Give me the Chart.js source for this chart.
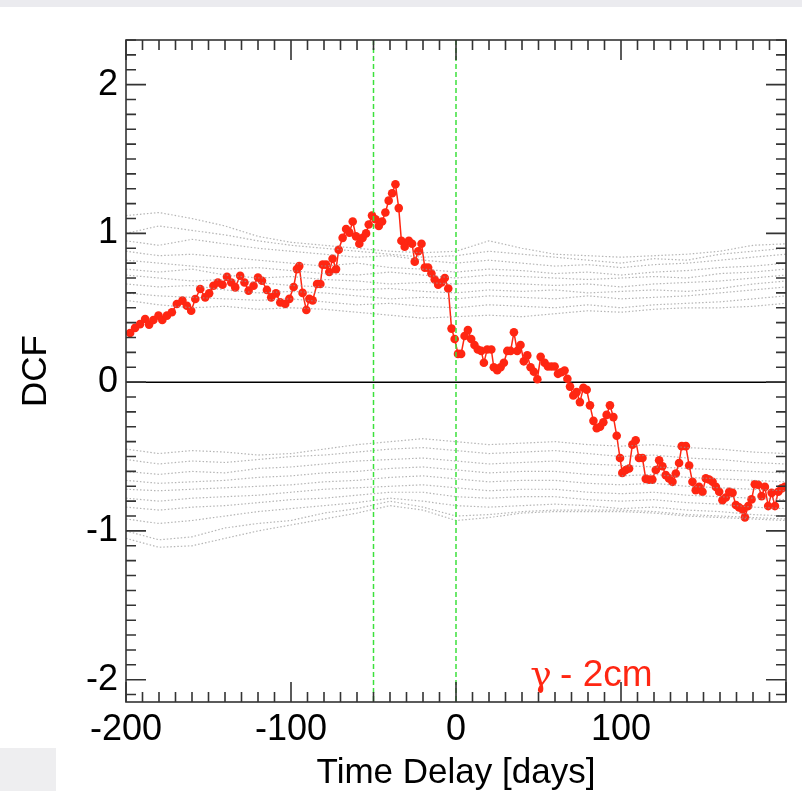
<!DOCTYPE html>
<html>
<head>
<meta charset="utf-8">
<script src="https://cdn.jsdelivr.net/npm/chart.js@4.4.1/dist/chart.umd.min.js"></script>
<style>
  body { margin: 0; background: #fff; }
  #wrap { position: relative; width: 802px; height: 791px; }
  #topband { position: absolute; left: 0; top: 0; width: 802px; height: 7px; background: #ebebef; }
  #cornerbox { position: absolute; left: 0; top: 748px; width: 56px; height: 43px; background: #eeeef0; }
  canvas { position: absolute; left: 0; top: 0; }
</style>
</head>
<body>
<div id="wrap">
  <div id="topband"></div>
  <div id="cornerbox"></div>
  <canvas id="dcfChart" width="802" height="791"></canvas>
</div>
<script>
// measured DCF (gamma vs 2cm)
const lagDays = [
  -197.5, -194.5, -191.5, -188.4, -186.0, -183.4, -180.3, -178.0, -175.2, -172.2,
  -169.2, -165.8, -163.1, -160.5, -158.0, -155.0, -152.0, -149.6, -147.0, -144.3,
  -141.5, -138.8, -136.2, -133.8, -130.8, -128.2, -125.7, -122.7, -120.0, -117.6,
  -114.6, -112.0, -109.1, -106.5, -103.5, -101.0, -98.4, -96.4, -95.0, -93.0,
  -90.7, -88.9, -86.9, -84.2, -82.2, -80.8, -78.8, -76.8, -74.8, -72.7,
  -71.1, -68.7, -66.6, -64.6, -62.6, -60.6, -58.6, -56.6, -54.5, -52.9,
  -50.9, -48.8, -46.8, -44.8, -42.8, -40.8, -38.7, -36.7, -34.7, -33.1,
  -31.1, -28.6, -26.6, -25.0, -22.9, -20.9, -18.9, -16.9, -14.9, -12.9,
  -10.8, -8.8, -6.8, -4.7, -2.7, -0.8, 1.2, 3.1, 5.2, 7.2,
  9.2, 11.2, 13.2, 15.3, 16.9, 18.9, 21.4, 22.9, 25.0, 27.0,
  29.0, 31.1, 33.1, 35.1, 37.1, 39.1, 41.1, 43.2, 45.2, 47.2,
  49.3, 51.3, 53.7, 55.7, 57.8, 59.8, 61.8, 63.8, 65.8, 67.5,
  69.1, 71.1, 73.1, 75.1, 77.2, 79.2, 81.2, 83.3, 85.3, 87.3,
  89.3, 91.3, 93.3, 95.4, 97.4, 99.4, 100.8, 102.9, 104.9, 106.9,
  108.9, 110.9, 113.0, 115.0, 117.0, 119.0, 121.1, 123.1, 125.1, 127.1,
  129.1, 131.2, 133.2, 135.2, 136.8, 139.3, 141.3, 143.3, 145.3, 147.3,
  149.4, 151.4, 153.4, 155.5, 157.5, 159.5, 161.5, 163.5, 165.6, 167.6,
  169.6, 171.6, 173.7, 175.1, 177.1, 179.1, 181.1, 183.1, 185.2, 187.2,
  189.2, 191.3, 193.3, 195.3, 197.3, 199.3
];
const dcfValues = [
  0.33, 0.365, 0.39, 0.425, 0.387, 0.418, 0.447, 0.418, 0.447, 0.47,
  0.525, 0.548, 0.514, 0.48, 0.559, 0.626, 0.57, 0.597, 0.648, 0.67,
  0.655, 0.708, 0.67, 0.637, 0.715, 0.67, 0.615, 0.648, 0.704, 0.682,
  0.62, 0.57, 0.597, 0.536, 0.525, 0.56, 0.64, 0.76, 0.78, 0.60,
  0.485, 0.56, 0.55, 0.66, 0.66, 0.79, 0.79, 0.74, 0.83, 0.76,
  0.89, 0.97, 1.03, 1.005, 1.08, 0.98, 0.93, 0.97, 1.00, 1.06,
  1.12, 1.095, 1.05, 1.08, 1.14, 1.22, 1.27, 1.33, 1.17, 0.95,
  0.91, 0.95, 0.93, 0.81, 0.88, 0.93, 0.77, 0.77, 0.73, 0.69,
  0.655, 0.67, 0.70, 0.63, 0.36, 0.29, 0.19, 0.19, 0.31, 0.35,
  0.29, 0.25, 0.22, 0.21, 0.13, 0.22, 0.22, 0.10, 0.08, 0.10,
  0.13, 0.21, 0.21, 0.335, 0.21, 0.25, 0.14, 0.18, 0.10, 0.07,
  0.02, 0.17, 0.13, 0.105, 0.105, 0.105, 0.056, 0.067, 0.078, 0.023,
  -0.03, -0.09, -0.067, -0.134, -0.038, -0.051, -0.156, -0.26, -0.31, -0.30,
  -0.27, -0.22, -0.156, -0.235, -0.36, -0.51, -0.61, -0.59, -0.58, -0.42,
  -0.39, -0.51, -0.51, -0.65, -0.655, -0.655, -0.59, -0.525, -0.565, -0.625,
  -0.647, -0.67, -0.614, -0.543, -0.43, -0.43, -0.56, -0.67, -0.726, -0.704,
  -0.737, -0.647, -0.654, -0.67, -0.704, -0.737, -0.793, -0.775, -0.737, -0.744,
  -0.826, -0.842, -0.855, -0.909, -0.833, -0.788, -0.686, -0.69, -0.766, -0.704,
  -0.833, -0.744, -0.833, -0.737, -0.714, -0.704
];

// simulated DCF curves (significance bands), sampled every 20 days
const simLags = [-200, -180, -160, -140, -120, -100, -80, -60, -40, -20, 0, 20, 40, 60, 80, 100, 120, 140, 160, 180, 200];
const simUpper = [
  [1.12, 1.14, 1.10, 1.05, 0.98, 0.94, 0.92, 0.90, 0.88, 0.87, 0.88, 0.95, 0.90, 0.86, 0.85, 0.84, 0.85, 0.86, 0.88, 0.92, 0.93],
  [1.00, 1.05, 1.02, 0.99, 0.95, 0.92, 0.90, 0.88, 0.86, 0.84, 0.85, 0.88, 0.86, 0.84, 0.82, 0.80, 0.83, 0.82, 0.86, 0.88, 0.90],
  [0.95, 0.92, 0.96, 0.93, 0.90, 0.88, 0.86, 0.84, 0.85, 0.82, 0.80, 0.82, 0.80, 0.78, 0.79, 0.77, 0.79, 0.80, 0.82, 0.84, 0.86],
  [0.88, 0.85, 0.86, 0.84, 0.82, 0.80, 0.78, 0.80, 0.77, 0.76, 0.74, 0.76, 0.75, 0.73, 0.74, 0.72, 0.74, 0.75, 0.77, 0.78, 0.80],
  [0.82, 0.80, 0.78, 0.76, 0.77, 0.75, 0.73, 0.72, 0.74, 0.72, 0.70, 0.72, 0.71, 0.70, 0.69, 0.70, 0.71, 0.70, 0.73, 0.74, 0.76],
  [0.76, 0.74, 0.76, 0.72, 0.70, 0.71, 0.69, 0.68, 0.66, 0.67, 0.66, 0.67, 0.66, 0.65, 0.66, 0.64, 0.66, 0.67, 0.68, 0.70, 0.72],
  [0.72, 0.70, 0.68, 0.69, 0.67, 0.65, 0.64, 0.62, 0.63, 0.61, 0.60, 0.62, 0.61, 0.62, 0.60, 0.61, 0.62, 0.61, 0.63, 0.66, 0.68],
  [0.66, 0.64, 0.65, 0.62, 0.60, 0.61, 0.60, 0.58, 0.56, 0.57, 0.56, 0.58, 0.57, 0.56, 0.58, 0.56, 0.57, 0.58, 0.60, 0.62, 0.64],
  [0.60, 0.58, 0.57, 0.56, 0.55, 0.56, 0.54, 0.52, 0.53, 0.51, 0.50, 0.52, 0.51, 0.50, 0.52, 0.50, 0.52, 0.53, 0.54, 0.56, 0.58],
  [0.55, 0.52, 0.50, 0.51, 0.49, 0.50, 0.49, 0.47, 0.45, 0.43, 0.44, 0.45, 0.44, 0.46, 0.48, 0.47, 0.49, 0.50, 0.50, 0.51, 0.53]
];
const simLower = [
  [-0.45, -0.48, -0.46, -0.47, -0.49, -0.48, -0.45, -0.42, -0.40, -0.38, -0.40, -0.42, -0.41, -0.40, -0.42, -0.43, -0.42, -0.44, -0.45, -0.47, -0.48],
  [-0.52, -0.55, -0.53, -0.54, -0.52, -0.50, -0.49, -0.47, -0.45, -0.44, -0.46, -0.48, -0.47, -0.46, -0.48, -0.50, -0.49, -0.51, -0.52, -0.54, -0.55],
  [-0.60, -0.62, -0.60, -0.61, -0.58, -0.57, -0.55, -0.53, -0.52, -0.51, -0.53, -0.55, -0.54, -0.53, -0.55, -0.56, -0.57, -0.58, -0.59, -0.60, -0.61],
  [-0.66, -0.68, -0.67, -0.66, -0.64, -0.63, -0.61, -0.60, -0.58, -0.57, -0.59, -0.61, -0.60, -0.60, -0.62, -0.63, -0.62, -0.64, -0.65, -0.66, -0.67],
  [-0.72, -0.73, -0.72, -0.71, -0.70, -0.69, -0.67, -0.66, -0.64, -0.63, -0.65, -0.67, -0.66, -0.66, -0.68, -0.69, -0.68, -0.70, -0.71, -0.72, -0.73],
  [-0.78, -0.80, -0.78, -0.77, -0.76, -0.74, -0.72, -0.71, -0.70, -0.69, -0.71, -0.73, -0.72, -0.72, -0.74, -0.75, -0.74, -0.76, -0.77, -0.78, -0.79],
  [-0.84, -0.86, -0.84, -0.83, -0.81, -0.79, -0.78, -0.76, -0.74, -0.74, -0.77, -0.78, -0.77, -0.77, -0.79, -0.80, -0.79, -0.81, -0.82, -0.84, -0.85],
  [-0.92, -0.95, -0.93, -0.90, -0.87, -0.85, -0.83, -0.81, -0.78, -0.80, -0.83, -0.84, -0.83, -0.82, -0.83, -0.85, -0.84, -0.86, -0.87, -0.89, -0.90],
  [-1.00, -1.06, -1.04, -0.98, -0.95, -0.93, -0.88, -0.85, -0.80, -0.84, -0.90, -0.89, -0.87, -0.86, -0.86, -0.86, -0.87, -0.89, -0.90, -0.91, -0.92],
  [-1.05, -1.11, -1.10, -1.05, -1.00, -0.96, -0.92, -0.88, -0.83, -0.86, -0.93, -0.91, -0.88, -0.87, -0.87, -0.87, -0.88, -0.90, -0.91, -0.92, -0.93]
];

// vertical reference lags
const markerLags = [-50, 0];

const RED = "rgb(255, 38, 18)";
const GRAY = "rgba(150, 150, 150, 0.7)";
const FONT = "'Liberation Sans', Arial, Helvetica, sans-serif";

const toPoints = (xs, ys) => xs.map((x, i) => ({ x: x, y: ys[i] }));

const simSets = simUpper.concat(simLower).map((ys) => ({
  data: toPoints(simLags, ys),
  showLine: true,
  borderColor: GRAY,
  borderWidth: 1.2,
  borderDash: [1.5, 2],
  pointRadius: 0,
  tension: 0,
}));

// IDL-style frame: inward ticks on all four sides, zero line, dashed markers, label
const framePlugin = {
  id: "idlFrame",
  beforeDatasetsDraw(chart) {
    const { ctx, chartArea: a, scales } = chart;
    const y0 = scales.y.getPixelForValue(0);
    ctx.save();
    ctx.strokeStyle = "#000";
    ctx.lineWidth = 1.5;
    ctx.beginPath();
    ctx.moveTo(a.left, y0);
    ctx.lineTo(a.right, y0);
    ctx.stroke();
    ctx.restore();
  },
  afterDatasetsDraw(chart) {
    const { ctx, chartArea: a, scales } = chart;
    ctx.save();
    // green dashed lines
    ctx.strokeStyle = "rgb(60, 225, 60)";
    ctx.lineWidth = 1.5;
    ctx.setLineDash([5, 3]);
    markerLags.forEach((lag) => {
      const px = scales.x.getPixelForValue(lag);
      ctx.beginPath();
      ctx.moveTo(px, a.top);
      ctx.lineTo(px, a.bottom);
      ctx.stroke();
    });
    ctx.setLineDash([]);

    // frame
    ctx.strokeStyle = "#333";
    ctx.lineWidth = 1.6;
    ctx.strokeRect(a.left, a.top, a.right - a.left, a.bottom - a.top);

    // x ticks
    ctx.beginPath();
    for (let v = -200; v <= 200; v += 10) {
      const px = scales.x.getPixelForValue(v);
      const len = v % 100 === 0 ? 20 : 10;
      ctx.moveTo(px, a.bottom);
      ctx.lineTo(px, a.bottom - len);
      ctx.moveTo(px, a.top);
      ctx.lineTo(px, a.top + len);
    }
    // y ticks
    for (let k = -21; k <= 23; k++) {
      const v = k / 10;
      const py = scales.y.getPixelForValue(v);
      if (py < a.top || py > a.bottom) continue;
      const len = k % 10 === 0 ? 20 : 10;
      ctx.moveTo(a.left, py);
      ctx.lineTo(a.left + len, py);
      ctx.moveTo(a.right, py);
      ctx.lineTo(a.right - len, py);
    }
    ctx.stroke();

    // band label: greek gamma then the rest
    const lx = scales.x.getPixelForValue(45);
    const ly = scales.y.getPixelForValue(-2.04);
    ctx.fillStyle = RED;
    ctx.textBaseline = "alphabetic";
    ctx.font = "36px 'DejaVu Serif', serif";
    ctx.fillText("\u03b3", lx, ly);
    const gw = ctx.measureText("\u03b3").width;
    ctx.font = "37px " + FONT;
    ctx.fillText(" - 2cm", lx + gw - 2, ly);
    ctx.restore();
  },
};

new Chart(document.getElementById("dcfChart"), {
  type: "scatter",
  data: {
    datasets: simSets.concat([
      {
        data: toPoints(lagDays, dcfValues),
        showLine: true,
        borderColor: RED,
        backgroundColor: RED,
        borderWidth: 1.5,
        pointRadius: 4.3,
        pointBorderWidth: 0,
      },
    ]),
  },
  options: {
    responsive: false,
    animation: false,
    events: [],
    layout: { padding: { top: 40, right: 16, left: 0, bottom: 0 } },
    plugins: { legend: { display: false }, tooltip: { enabled: false } },
    scales: {
      x: {
        type: "linear",
        min: -200,
        max: 200,
        grid: { display: false, drawTicks: false },
        border: { display: false },
        afterFit: (s) => { s.height = 89; },
        ticks: {
          stepSize: 100,
          padding: 6,
          color: "#000",
          font: { family: FONT, size: 36 },
          callback: (v) => (v === 200 ? "" : v),
        },
        title: {
          display: true,
          text: "Time Delay [days]",
          color: "#000",
          font: { family: FONT, size: 35, lineHeight: 1 },
          padding: { top: 0, bottom: 0 },
        },
      },
      y: {
        min: -2.15,
        max: 2.3,
        grid: { display: false, drawTicks: false },
        border: { display: false },
        afterFit: (s) => { s.width = 126; },
        ticks: {
          stepSize: 1,
          includeBounds: false,
          padding: 8,
          color: "#000",
          font: { family: FONT, size: 36 },
        },
        title: {
          display: true,
          text: "DCF",
          color: "#000",
          font: { family: FONT, size: 35, lineHeight: 1 },
          padding: { top: 19, bottom: 0 },
        },
      },
    },
  },
  plugins: [framePlugin],
});
</script>
</body>
</html>
